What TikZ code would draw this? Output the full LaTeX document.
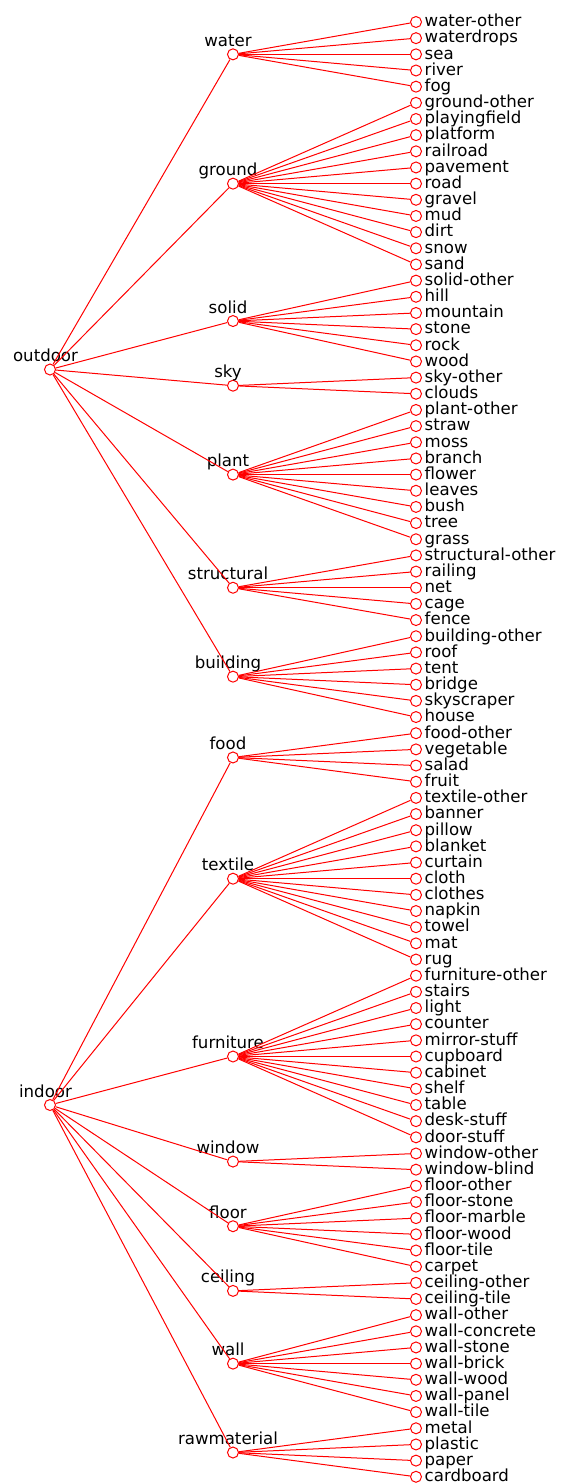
\documentclass[tikz,border=0pt]{standalone}
\usepackage{fontspec}
\setmainfont{DejaVu Sans}
\begin{document}
\begin{tikzpicture}[x=1pt,y=1pt,
  dot/.style={draw=red,circle,minimum size=11pt,inner sep=0pt,line width=1pt},
  edge/.style={red,line width=1pt},
  lbl/.style={anchor=base,inner sep=0pt,font=\fontsize{16.6}{18}\selectfont},
  leaflbl/.style={anchor=base west,inner sep=0pt,font=\fontsize{16.6}{18}\selectfont}]
\useasboundingbox (0,0) rectangle (560,-1484);
% leaves, evenly spaced down the right-hand column
\foreach \t [count=\i from 0] in {water-other,waterdrops,sea,river,fog,
  ground-other,playingfield,platform,railroad,pavement,road,gravel,mud,dirt,snow,sand,
  solid-other,hill,mountain,stone,rock,wood,
  sky-other,clouds,
  plant-other,straw,moss,branch,flower,leaves,bush,tree,grass,
  structural-other,railing,net,cage,fence,
  building-other,roof,tent,bridge,skyscraper,house,
  food-other,vegetable,salad,fruit,
  textile-other,banner,pillow,blanket,curtain,cloth,clothes,napkin,towel,mat,rug,
  furniture-other,stairs,light,counter,mirror-stuff,cupboard,cabinet,shelf,table,desk-stuff,door-stuff,
  window-other,window-blind,
  floor-other,floor-stone,floor-marble,floor-wood,floor-tile,carpet,
  ceiling-other,ceiling-tile,
  wall-other,wall-concrete,wall-stone,wall-brick,wall-wood,wall-panel,wall-tile,
  metal,plastic,paper,cardboard}{
  \pgfmathsetmacro\yy{-(22+16.164*\i)}
  \node[dot] (l\i) at (416,\yy) {};
  \node[leaflbl] (l\i-t) at (424.5,\yy-4.8) {\t};
}
% the two roots
\foreach \r/\m in {outdoor/21.5,indoor/67}{
  \pgfmathsetmacro\yy{-(22+16.164*\m)}
  \node[dot] (\r) at (50,\yy) {};
  \node[lbl] (\r-t) at (45.5,\yy+8) {\r};
}
% middle level: each group sits at the mean height of its leaves
\foreach \g/\a/\b/\r in {water/0/4/outdoor,ground/5/15/outdoor,solid/16/21/outdoor,
  sky/22/23/outdoor,plant/24/32/outdoor,structural/33/37/outdoor,building/38/43/outdoor,
  food/44/47/indoor,textile/48/58/indoor,furniture/59/69/indoor,window/70/71/indoor,
  floor/72/77/indoor,ceiling/78/79/indoor,wall/80/86/indoor,rawmaterial/87/90/indoor}{
  \pgfmathsetmacro\yy{-(22+16.164*(\a+\b)/2)}
  \node[dot] (\g) at (233,\yy) {};
  \node[lbl] (\g-t) at (228,\yy+8) {\g};
  \draw[edge] (\r) -- (\g);
  \foreach \i in {\a,...,\b} \draw[edge] (\g) -- (l\i);
}
\end{tikzpicture}
\end{document}
